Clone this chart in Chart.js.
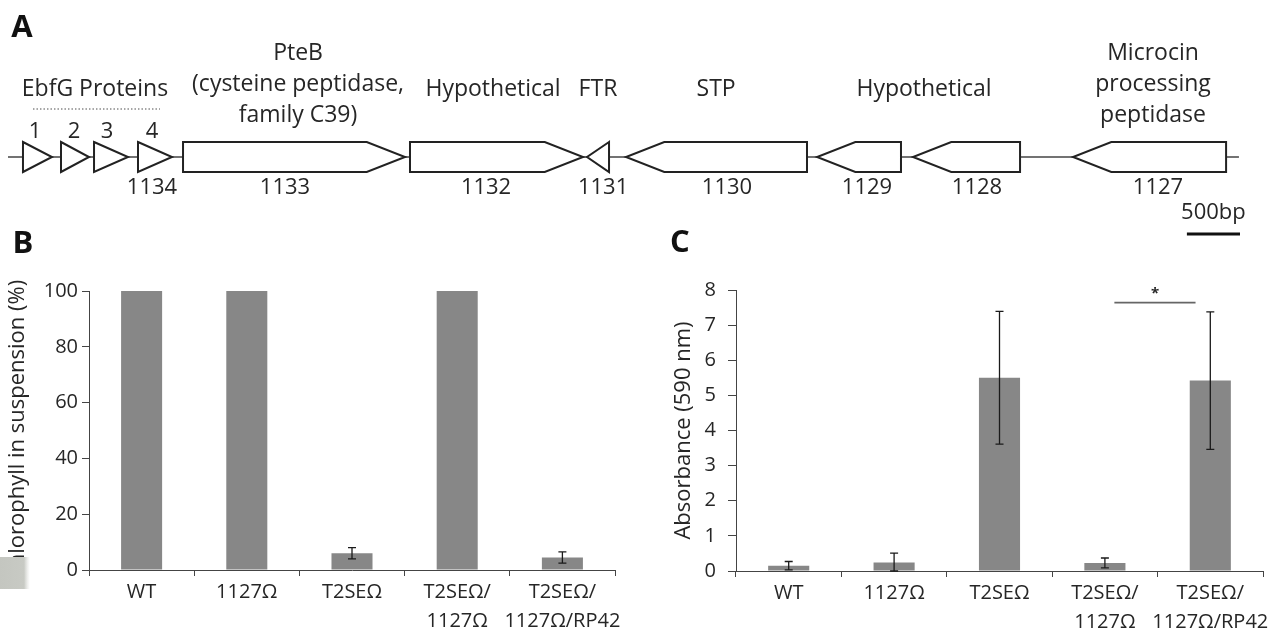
<!DOCTYPE html>
<html>
<head>
<meta charset="utf-8">
<script src="https://cdn.jsdelivr.net/npm/chart.js@4.4.1/dist/chart.umd.min.js"></script>
<style>
  body { margin: 0; background: #fff; }
  #wrap { position: relative; width: 1272px; height: 637px; overflow: hidden; }
  canvas { position: absolute; }
  #chartB { left: 0; top: 220px; }
  #chartC { left: 640px; top: 220px; }
  #geneMap { left: 0; top: 0; }
</style>
</head>
<body>
<div id="wrap">
  <canvas id="chartB" width="640" height="417"></canvas>
  <canvas id="chartC" width="632" height="417"></canvas>
  <canvas id="geneMap" width="1272" height="250"></canvas>
</div>
<script>
// gene map (bp along the locus)
const locusLength = 11590;
const geneStart = [141, 499, 810, 1224, 1648, 3785, 5452, 5819, 7618, 8521, 10028];
const geneEnd = [414, 763, 1130, 1544, 3738, 5414, 5659, 7523, 8408, 9529, 11469];
const geneStrand = [1, 1, 1, 1, 1, 1, -1, -1, -1, -1, -1];
const geneIds = ["1134", "1133", "1132", "1131", "1130", "1129", "1128", "1127"];
const geneIdAt = [1356, 2608, 4501, 5603, 6770, 8088, 9124, 10828];
const ebfgNums = ["1", "2", "3", "4"];
const ebfgNumAt = [254, 621, 932, 1356];
const noteText = [
  ["EbfG Proteins"],
  ["PteB", "(cysteine peptidase,", "family C39)"],
  ["Hypothetical"],
  ["FTR"],
  ["STP"],
  ["Hypothetical"],
  ["Microcin", "processing", "peptidase"]
];
const noteAt = [819, 2731, 4567, 5555, 6667, 8625, 10781];
const ebfgBracket = [235, 1431];
const scaleBar = [11100, 11600]; // 500 bp

// panels B and C
const strains = [["WT"], ["1127Ω"], ["T2SEΩ"], ["T2SEΩ/", "1127Ω"], ["T2SEΩ/", "1127Ω/RP42"]];
const chlorophyll = [100, 100, 6, 100, 4.5];
const chlorophyllErr = [0, 0, 2, 0, 2];
const absorbance = [0.15, 0.24, 5.5, 0.23, 5.42];
const absorbanceErr = [0.12, 0.27, 1.89, 0.14, 1.96];
const sigPair = [3, 4];
const sigLevel = 7.64;

const FONT = "'Open Sans', sans-serif";
const TEXT = "#262626";
const AXIS = "#444";
const BAR = "#878787";
Chart.defaults.font.family = FONT;
Chart.defaults.color = TEXT;

function panelLetter(ctx, letter, x, y) {
  ctx.save();
  ctx.font = "bold 31px " + FONT;
  ctx.fillStyle = "#111";
  ctx.textAlign = "center";
  ctx.textBaseline = "middle";
  ctx.fillText(letter, x, y);
  ctx.restore();
}

const geneArrows = {
  id: "geneArrows",
  afterDraw(chart) {
    const { ctx, scales: { x, y } } = chart;
    const head = 360;
    const top = y.getPixelForValue(1), bot = y.getPixelForValue(-1), mid = y.getPixelForValue(0);
    ctx.save();
    ctx.strokeStyle = "#444";
    ctx.lineWidth = 1.5;
    ctx.beginPath();
    ctx.moveTo(x.getPixelForValue(0), mid);
    ctx.lineTo(x.getPixelForValue(locusLength), mid);
    ctx.stroke();

    ctx.strokeStyle = "#222";
    ctx.lineWidth = 2;
    ctx.lineJoin = "miter";
    geneStart.forEach((s, i) => {
      const e = geneEnd[i];
      const h = Math.min(e - s, head);
      let pts;
      if (geneStrand[i] > 0) {
        const x0 = x.getPixelForValue(s), x1 = x.getPixelForValue(e - h), x2 = x.getPixelForValue(e);
        pts = [[x0, top], [x1, top], [x2, mid], [x1, bot], [x0, bot]];
      } else {
        const x0 = x.getPixelForValue(e), x1 = x.getPixelForValue(s + h), x2 = x.getPixelForValue(s);
        pts = [[x0, top], [x1, top], [x2, mid], [x1, bot], [x0, bot]];
      }
      ctx.beginPath();
      pts.forEach((p, k) => (k ? ctx.lineTo(p[0], p[1]) : ctx.moveTo(p[0], p[1])));
      ctx.closePath();
      ctx.fillStyle = "#fff";
      ctx.fill();
      ctx.stroke();
    });

    // text
    ctx.fillStyle = TEXT;
    ctx.textAlign = "center";
    ctx.textBaseline = "middle";
    ctx.font = "23px " + FONT;
    noteText.forEach((lines, i) => {
      const px = x.getPixelForValue(noteAt[i]);
      if (lines.length === 1) {
        ctx.fillText(lines[0], px, 89);
      } else {
        lines.forEach((t, k) => ctx.fillText(t, px, 53 + k * 31));
      }
    });
    ctx.font = "22px " + FONT;
    geneIds.forEach((t, i) => ctx.fillText(t, x.getPixelForValue(geneIdAt[i]), 188));
    ebfgNums.forEach((t, i) => ctx.fillText(t, x.getPixelForValue(ebfgNumAt[i]), 132));
    ctx.fillText("500bp", x.getPixelForValue((scaleBar[0] + scaleBar[1]) / 2), 213);

    // dotted bracket over EbfG genes
    ctx.strokeStyle = "#888";
    ctx.lineWidth = 1.5;
    ctx.setLineDash([1.5, 2]);
    ctx.beginPath();
    ctx.moveTo(x.getPixelForValue(ebfgBracket[0]), 109);
    ctx.lineTo(x.getPixelForValue(ebfgBracket[1]), 109);
    ctx.stroke();
    ctx.setLineDash([]);

    // scale bar
    ctx.strokeStyle = "#111";
    ctx.lineWidth = 3;
    ctx.beginPath();
    ctx.moveTo(x.getPixelForValue(scaleBar[0]), 234);
    ctx.lineTo(x.getPixelForValue(scaleBar[1]), 234);
    ctx.stroke();
    ctx.restore();

    panelLetter(ctx, "A", 22, 28);
  }
};

new Chart(document.getElementById("geneMap"), {
  type: "scatter",
  data: { datasets: [] },
  options: {
    responsive: false,
    animation: false,
    layout: { padding: { left: 8, right: 32, top: 142, bottom: 78 } },
    scales: {
      x: { type: "linear", min: 0, max: 11600, display: false },
      y: { type: "linear", min: -1, max: 1, display: false }
    },
    plugins: { legend: { display: false }, tooltip: { enabled: false } }
  },
  plugins: [geneArrows]
});

const errorBars = {
  id: "errorBars",
  afterDatasetsDraw(chart, args, opts) {
    const { ctx, scales: { x, y } } = chart;
    const vals = chart.data.datasets[0].data;
    ctx.save();
    ctx.strokeStyle = "#1a1a1a";
    ctx.lineWidth = 1.3;
    vals.forEach((v, i) => {
      const err = opts.errors[i];
      if (!err) return;
      const cx = x.getPixelForValue(i);
      const yt = y.getPixelForValue(v + err);
      const yb = y.getPixelForValue(Math.max(0, v - err));
      ctx.beginPath();
      ctx.moveTo(cx, yt); ctx.lineTo(cx, yb);
      ctx.moveTo(cx - 4, yt); ctx.lineTo(cx + 4, yt);
      ctx.moveTo(cx - 4, yb); ctx.lineTo(cx + 4, yb);
      ctx.stroke();
    });
    ctx.restore();
  }
};

const extrasB = {
  id: "extrasB",
  afterDraw(chart) {
    const ctx = chart.ctx;
    // grey scan smudge over the start of the axis title
    const g = ctx.createLinearGradient(0, 0, 30, 0);
    g.addColorStop(0, "#c4c6c0");
    g.addColorStop(0.8, "#c8cac4");
    g.addColorStop(1, "rgba(220,222,218,0)");
    ctx.fillStyle = g;
    ctx.fillRect(0, 337, 30, 32);
    panelLetter(ctx, "B", 23, 24);
  }
};

const extrasC = {
  id: "extrasC",
  afterDraw(chart) {
    const { ctx, scales: { x, y } } = chart;
    const a = x.getPixelForValue(sigPair[0]), b = x.getPixelForValue(sigPair[1]);
    const x0 = a + (b - a) * 0.09, x1 = a + (b - a) * 0.86;
    const ly = y.getPixelForValue(sigLevel);
    ctx.save();
    ctx.strokeStyle = "#666";
    ctx.lineWidth = 1.8;
    ctx.beginPath();
    ctx.moveTo(x0, ly); ctx.lineTo(x1, ly);
    ctx.stroke();
    ctx.fillStyle = TEXT;
    ctx.font = "bold 15px " + FONT;
    ctx.textAlign = "center";
    ctx.textBaseline = "middle";
    ctx.fillText("*", (x0 + x1) / 2, ly - 9);
    ctx.restore();
    panelLetter(ctx, "C", 40, 23);
  }
};

function barOptions(cfg) {
  return {
    responsive: false,
    animation: false,
    layout: { padding: cfg.padding },
    scales: {
      x: {
        ticks: { color: TEXT, font: { size: 20, lineHeight: 1.45 }, padding: 2, maxRotation: 0, autoSkip: false },
        grid: { offset: true, drawOnChartArea: false, tickLength: 6, color: AXIS },
        border: { color: AXIS, width: 1 },
        afterFit(s) { s.height = cfg.xHeight; }
      },
      y: {
        min: 0,
        max: cfg.max,
        ticks: { stepSize: cfg.step, color: TEXT, font: { size: 20 }, padding: cfg.tickPad },
        grid: { drawOnChartArea: false, tickLength: cfg.tickLen, color: AXIS },
        border: { color: AXIS, width: 1 },
        title: { display: true, text: cfg.title, color: TEXT, font: { size: 22 }, padding: { top: cfg.titlePad, bottom: 0 } },
        afterFit(s) { s.width = cfg.yWidth; }
      }
    },
    plugins: {
      legend: { display: false },
      tooltip: { enabled: false },
      errorBars: { errors: cfg.errors }
    }
  };
}

new Chart(document.getElementById("chartB"), {
  type: "bar",
  data: {
    labels: strains,
    datasets: [{ data: chlorophyll, backgroundColor: BAR, categoryPercentage: 1, barPercentage: 0.39 }]
  },
  options: barOptions({
    padding: { left: 0, right: 25, top: 71, bottom: 0 },
    xHeight: 67, yWidth: 89, max: 100, step: 20, tickPad: 4, tickLen: 7,
    title: "Chlorophyll in suspension (%)", titlePad: 5, errors: chlorophyllErr
  }),
  plugins: [errorBars, extrasB]
});

new Chart(document.getElementById("chartC"), {
  type: "bar",
  data: {
    labels: strains,
    datasets: [{ data: absorbance, backgroundColor: BAR, categoryPercentage: 1, barPercentage: 0.39 }]
  },
  options: barOptions({
    padding: { left: 0, right: 9, top: 70, bottom: 0 },
    xHeight: 66, yWidth: 96, max: 8, step: 1, tickPad: 12, tickLen: 8,
    title: "Absorbance (590 nm)", titlePad: 31, errors: absorbanceErr
  }),
  plugins: [errorBars, extrasC]
});
</script>
</body>
</html>
